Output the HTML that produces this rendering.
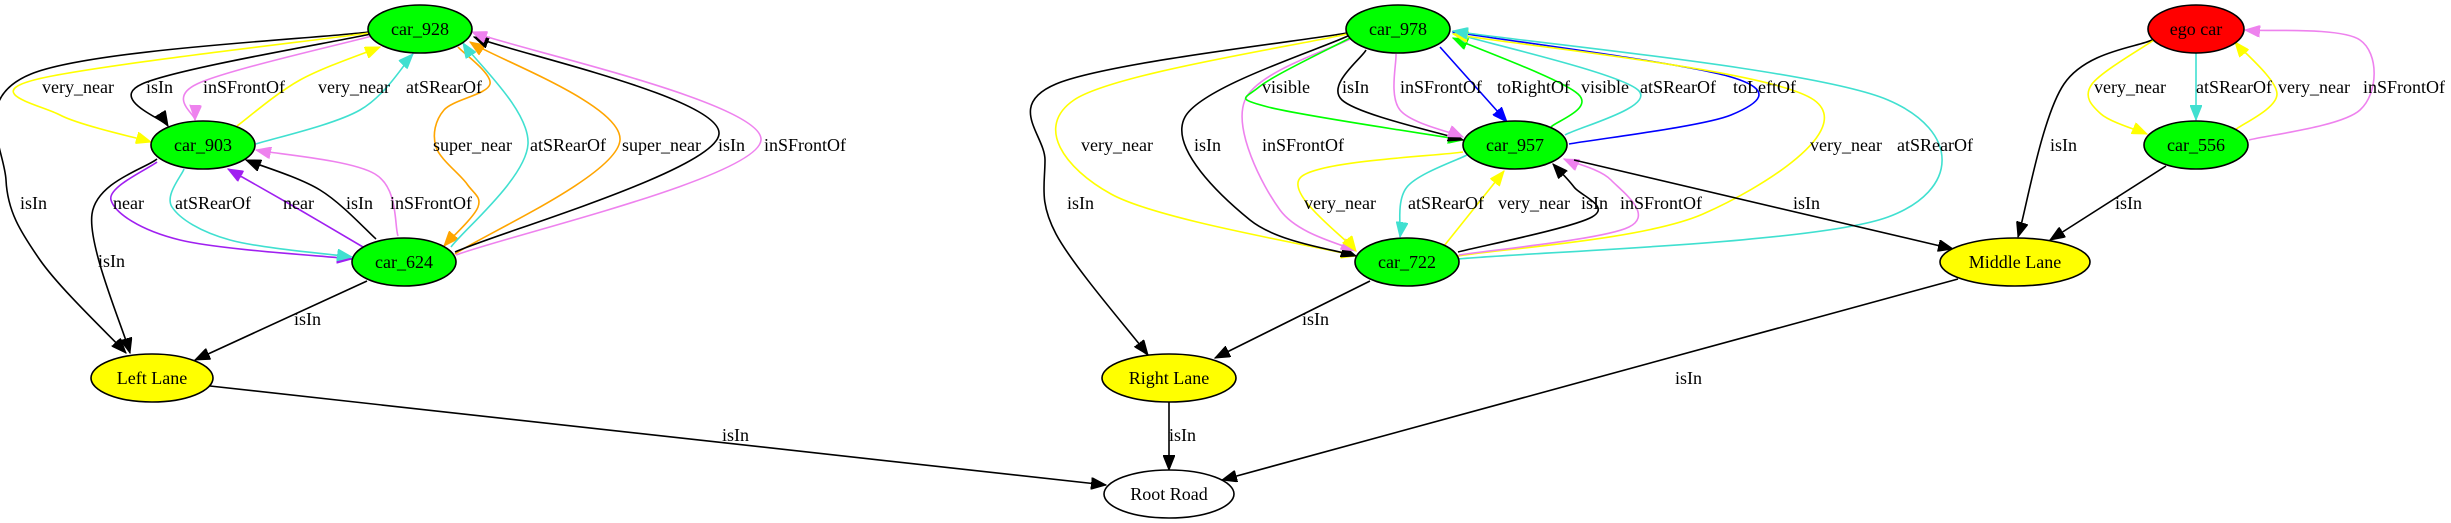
<!DOCTYPE html>
<html><head><meta charset="utf-8">
<style>
html,body{margin:0;padding:0;background:#fff;}
svg{display:block;}
text{font-family:"Liberation Serif",serif;font-size:18px;fill:#000;}
</style></head>
<body>
<svg id="g" width="2451" height="523" viewBox="0 0 2451 523" xmlns="http://www.w3.org/2000/svg">
<defs></defs>
<g id="edges" fill="none" stroke-width="1.6"></g>
<g id="nodes" stroke="#000" stroke-width="1.6">
<ellipse cx="420" cy="29" rx="52" ry="24" fill="#00ff00"/>
<ellipse cx="203" cy="145" rx="52" ry="24" fill="#00ff00"/>
<ellipse cx="404" cy="262" rx="52" ry="24" fill="#00ff00"/>
<ellipse cx="152" cy="378" rx="61" ry="24" fill="#ffff00"/>
<ellipse cx="1169" cy="494" rx="65" ry="24" fill="#ffffff"/>
<ellipse cx="1398" cy="29" rx="52" ry="24" fill="#00ff00"/>
<ellipse cx="1515" cy="145" rx="52" ry="24" fill="#00ff00"/>
<ellipse cx="1407" cy="262" rx="52" ry="24" fill="#00ff00"/>
<ellipse cx="1169" cy="378" rx="67" ry="24" fill="#ffff00"/>
<ellipse cx="2015" cy="262" rx="75" ry="24" fill="#ffff00"/>
<ellipse cx="2196" cy="29" rx="48" ry="24" fill="#ff0000"/>
<ellipse cx="2196" cy="145" rx="52" ry="24" fill="#00ff00"/>
</g>
<g text-anchor="middle" dominant-baseline="central">
<text x="420" y="29">car_928</text>
<text x="203" y="145">car_903</text>
<text x="404" y="262">car_624</text>
<text x="152" y="378">Left Lane</text>
<text x="1169" y="494">Root Road</text>
<text x="1398" y="29">car_978</text>
<text x="1515" y="145">car_957</text>
<text x="1407" y="262">car_722</text>
<text x="1169" y="378">Right Lane</text>
<text x="2015" y="262">Middle Lane</text>
<text x="2196" y="29">ego car</text>
<text x="2196" y="145">car_556</text>
</g>
<g id="labels" dominant-baseline="central">
<text x="20" y="203">isIn</text>
<text x="42" y="87">very_near</text>
<text x="146" y="87">isIn</text>
<text x="203" y="87">inSFrontOf</text>
<text x="318" y="87">very_near</text>
<text x="406" y="87">atSRearOf</text>
<text x="433" y="145">super_near</text>
<text x="530" y="145">atSRearOf</text>
<text x="622" y="145">super_near</text>
<text x="718" y="145">isIn</text>
<text x="764" y="145">inSFrontOf</text>
<text x="98" y="261">isIn</text>
<text x="113" y="203">near</text>
<text x="175" y="203">atSRearOf</text>
<text x="283" y="203">near</text>
<text x="346" y="203">isIn</text>
<text x="390" y="203">inSFrontOf</text>
<text x="294" y="319">isIn</text>
<text x="722" y="435">isIn</text>
<text x="1067" y="203">isIn</text>
<text x="1081" y="145">very_near</text>
<text x="1194" y="145">isIn</text>
<text x="1262" y="145">inSFrontOf</text>
<text x="1262" y="87">visible</text>
<text x="1342" y="87">isIn</text>
<text x="1400" y="87">inSFrontOf</text>
<text x="1497" y="87">toRightOf</text>
<text x="1581" y="87">visible</text>
<text x="1640" y="87">atSRearOf</text>
<text x="1733" y="87">toLeftOf</text>
<text x="1810" y="145">very_near</text>
<text x="1897" y="145">atSRearOf</text>
<text x="1304" y="203">very_near</text>
<text x="1408" y="203">atSRearOf</text>
<text x="1498" y="203">very_near</text>
<text x="1581" y="203">isIn</text>
<text x="1620" y="203">inSFrontOf</text>
<text x="1793" y="203">isIn</text>
<text x="1302" y="319">isIn</text>
<text x="1169" y="435">isIn</text>
<text x="1675" y="378">isIn</text>
<text x="2050" y="145">isIn</text>
<text x="2094" y="87">very_near</text>
<text x="2196" y="87">atSRearOf</text>
<text x="2278" y="87">very_near</text>
<text x="2363" y="87">inSFrontOf</text>
<text x="2115" y="203">isIn</text>
</g>
</svg>
<script>
var C={k:'#000000',y:'#ffff00',v:'#ee82ee',t:'#40e0d0',o:'#ffa500',p:'#a020f0',g:'#00ff00',b:'#0000ff'};
var NS='http://www.w3.org/2000/svg';
var defs=document.querySelector('defs');
for(var k in C){var m=document.createElementNS(NS,'marker');m.setAttribute('id','m'+k);m.setAttribute('markerUnits','userSpaceOnUse');m.setAttribute('markerWidth','16');m.setAttribute('markerHeight','12');m.setAttribute('refX','15');m.setAttribute('refY','6');m.setAttribute('orient','auto');var p=document.createElementNS(NS,'path');p.setAttribute('d','M0,0 L15,6 L0,12 Z');p.setAttribute('fill',C[k]);p.setAttribute('stroke',C[k]);m.appendChild(p);defs.appendChild(m);}
var E=[
['k',[[369,32],[31,74],[6,180],[40,260],[126,353]]],
['y',[[369,33],[34,80],[60,115],[151,142]]],
['k',[[371,34],[142,84],[168,126]]],
['v',[[372,36],[197,84],[195,120]]],
['y',[[237,126],[300,80],[380,47]]],
['t',[[256,144],[360,110],[413,54]]],
['o',[[458,47],[490,84],[444,110],[436,147],[467,184],[478,207],[444,246]]],
['t',[[451,247],[528,144],[463,43]]],
['o',[[455,254],[620,140],[470,42]]],
['k',[[455,252],[719,134],[474,37]]],
['v',[[456,255],[761,140],[472,32]]],
['k',[[157,159],[92,214],[130,353]]],
['p',[[157,162],[111,200],[180,240],[352,259]]],
['t',[[184,169],[172,207],[230,240],[352,257]]],
['p',[[363,247],[300,210],[228,169]]],
['k',[[376,239],[320,190],[246,160]]],
['v',[[398,236],[375,174],[256,150]]],
['k',[[367,281],[195,360]]],
['k',[[210,386],[1106,485]]],
['k',[[1347,33],[1056,84],[1045,160],[1056,234],[1148,355]]],
['y',[[1347,34],[1074,100],[1111,194],[1356,256]]],
['k',[[1350,35],[1185,117],[1250,220],[1356,256]]],
['v',[[1352,38],[1245,100],[1280,210],[1356,251]]],
['g',[[1350,38],[1259,87],[1268,107],[1463,140]]],
['k',[[1366,50],[1342,100],[1463,140]]],
['v',[[1396,54],[1400,110],[1463,137]]],
['b',[[1440,47],[1507,122]]],
['g',[[1551,127],[1578,94],[1453,38]]],
['t',[[1565,135],[1638,90],[1453,33]]],
['b',[[1569,144],[1731,115],[1731,77],[1453,32]]],
['y',[[1458,256],[1703,214],[1814,100],[1453,34]]],
['t',[[1458,259],[1888,217],[1888,100],[1453,31]]],
['y',[[1463,152],[1301,177],[1356,251]]],
['t',[[1467,155],[1407,187],[1400,237]]],
['y',[[1444,246],[1504,171]]],
['k',[[1458,252],[1592,217],[1574,187],[1553,164]]],
['v',[[1459,255],[1629,227],[1611,180],[1564,159]]],
['k',[[1574,160],[1953,249]]],
['k',[[1370,281],[1215,358]]],
['k',[[1169,402],[1169,470]]],
['k',[[1958,279],[1222,480]]],
['k',[[2152,40],[2064,84],[2018,237]]],
['y',[[2157,38],[2092,84],[2101,114],[2147,134]]],
['t',[[2196,53],[2196,120]]],
['y',[[2235,130],[2277,94],[2235,42]]],
['v',[[2249,140],[2360,110],[2360,40],[2245,30]]],
['k',[[2166,166],[2050,240]]]
];
var G=document.getElementById('edges');
E.forEach(function(e){var P=e[1],d='M'+P[0][0]+','+P[0][1];
if(P.length==2){d+=' L'+P[1][0]+','+P[1][1];}else{
for(var i=0;i<P.length-1;i++){var p0=P[Math.max(i-1,0)],p1=P[i],p2=P[i+1],p3=P[Math.min(i+2,P.length-1)];
var c1=[p1[0]+(p2[0]-p0[0])/6,p1[1]+(p2[1]-p0[1])/6],c2=[p2[0]-(p3[0]-p1[0])/6,p2[1]-(p3[1]-p1[1])/6];
d+=' C'+c1[0].toFixed(1)+','+c1[1].toFixed(1)+' '+c2[0].toFixed(1)+','+c2[1].toFixed(1)+' '+p2[0]+','+p2[1];}}
var p=document.createElementNS(NS,'path');p.setAttribute('d',d);p.setAttribute('stroke',C[e[0]]);p.setAttribute('marker-end','url(#m'+e[0]+')');G.appendChild(p);});
</script>
</body></html>
